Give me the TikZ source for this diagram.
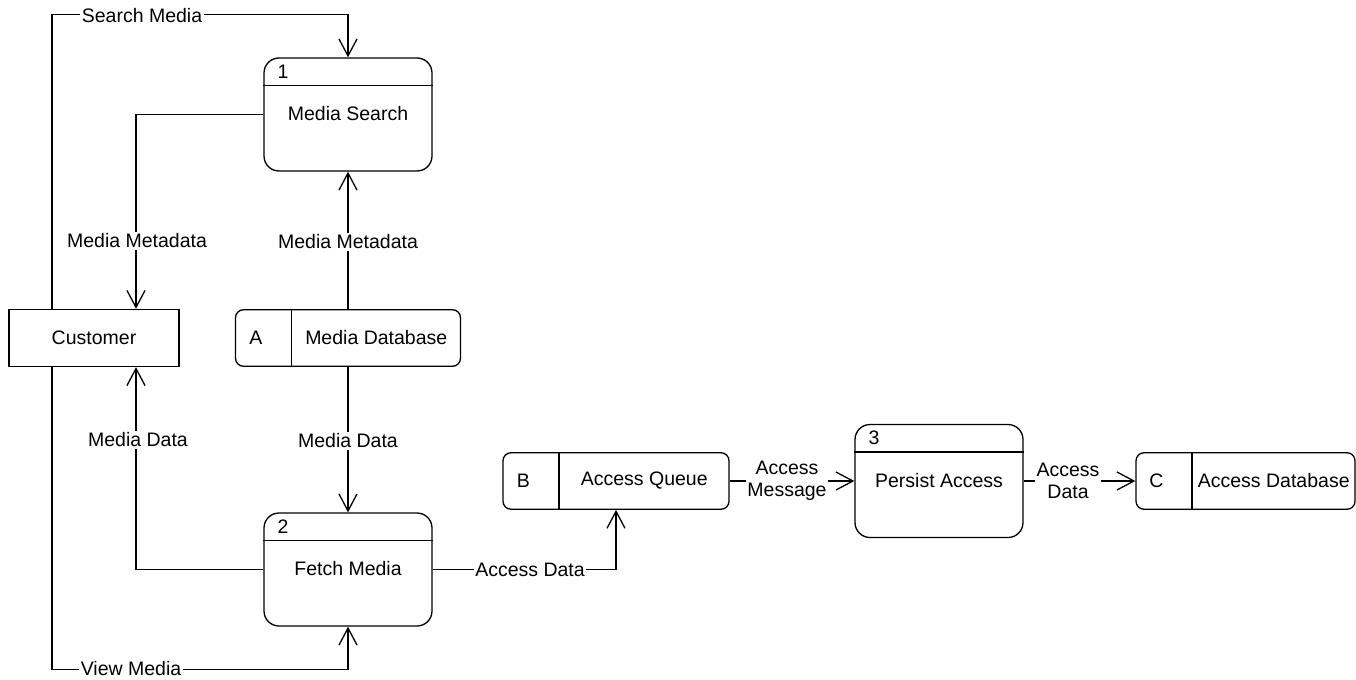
\documentclass[tikz,border=0pt]{standalone}
\usepackage{fontspec}
\setmainfont{Liberation Sans}
\usetikzlibrary{arrows.meta,calc}
\begin{document}
\begin{tikzpicture}[x=1bp,y=-1bp,
  every node/.style={font=\fontsize{19.5bp}{22bp}\selectfont, inner sep=0pt},
  proc/.style={draw, line width=1.3bp, rounded corners=15bp, minimum width=168bp, minimum height=113bp},
  store/.style={draw, line width=1.3bp, rounded corners=8bp, minimum height=56.5bp},
  ext/.style={draw, line width=1.3bp, minimum width=170bp, minimum height=57bp},
  sep/.style={line width=1.3bp},
  flow/.style={draw, line width=1.3bp, -{Straight Barb[length=17bp,width=18bp]}},
  lbl/.style={fill=white, inner sep=1.5bp, align=center}
]
\useasboundingbox (0,0) rectangle (1356,679);

% processes
\node[proc] (p1) at (348,114.5) {};
\node[proc] (p2) at (348,569.5) {};
\node[proc] (p3) at (939,481) {};
\foreach \p/\n in {p1/1,p2/2,p3/3}{
  \draw[sep] ([yshift=-28bp]\p.north west) -- ([yshift=-28bp]\p.north east);
  \node[anchor=west] (\p num) at ([xshift=14bp,yshift=-14bp]\p.north west) {\n};
}
\node (p1t) at ([yshift=-56.5bp]p1.north) {Media Search};
\node (p2t) at ([yshift=-56.5bp]p2.north) {Fetch Media};
\node (p3t) at ([yshift=-56.5bp]p3.north) {Persist Access};

% external entity
\node[ext] (cust) at (94,338) {Customer};

% data stores
\node[store, minimum width=225bp] (db) at (348,338) {};
\node[store, minimum width=226bp] (aq) at (616,481) {};
\node[store, minimum width=219bp] (adb) at (1245.5,481) {};
\foreach \s/\l in {db/A,aq/B,adb/C}{
  \draw[sep] ([xshift=56.5bp]\s.north west) -- ([xshift=56.5bp]\s.south west);
  \node (\s id) at ([xshift=21bp]\s.west) {\l};
}
\node (dbt) at ($(db.east)!0.5!([xshift=56.5bp]db.west)$) {Media Database};
\node (aqt) at ($(aq.east)!0.5!([xshift=56.5bp]aq.west)$) {Access Queue};
\node (adbt) at ($(adb.east)!0.5!([xshift=56.5bp]adb.west)$) {Access Database};

% flows
\draw[flow] ([xshift=-42bp]cust.north) -- ++(0,-294) -| (p1.north);
\draw[flow] (p1.west) -| ([xshift=42bp]cust.north);
\draw[flow] (db.north) -- (p1.south);
\draw[flow] (db.south) -- (p2.north);
\draw[flow] (p2.west) -| ([xshift=42bp]cust.south);
\draw[flow] ([xshift=-42bp]cust.south) -- ++(0,302) -| (p2.south);
\draw[flow] (p2.east) -| (aq.south);
\draw[flow] (aq.east) -- (p3.west);
\draw[flow] (p3.east) -- (adb.west);

% flow labels
\node[lbl] (l1) at (142,16) {Search Media};
\node[lbl] (l2) at (137,241) {Media Metadata};
\node[lbl] (l3) at (348,242) {Media Metadata};
\node[lbl] (l4) at (348,441) {Media Data};
\node[lbl] (l5) at (138,440) {Media Data};
\node[lbl] (l6) at (131,668.5) {View Media};
\node[lbl] (l7) at (530,570) {Access Data};
\node[lbl] (l8) at (787,481) {Access\\Message};
\node[lbl] (l9) at (1068,481) {Access\\Data};
\end{tikzpicture}
\end{document}
